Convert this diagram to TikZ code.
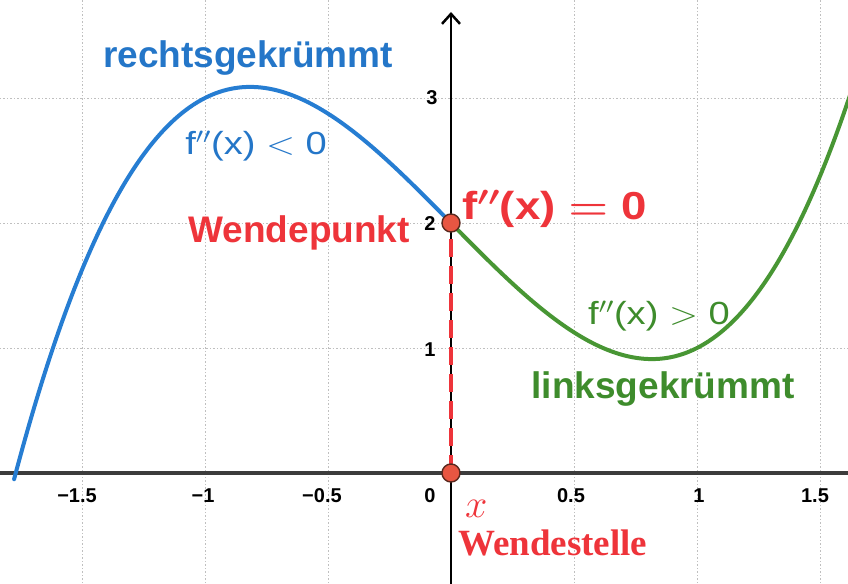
\RequirePackage{fix-cm}
\documentclass[tikz,border=0pt]{standalone}
\usepackage{graphicx}
\usepackage{fontspec}
\setmainfont{Liberation Sans}
\newfontfamily\serifbold{Liberation Serif}
\usetikzlibrary{arrows.meta}
\definecolor{cblue}{RGB}{38,125,210}
\definecolor{tblue}{RGB}{36,118,200}
\definecolor{cgreen}{RGB}{72,150,52}
\definecolor{tgreen}{RGB}{62,140,44}
\definecolor{cred}{RGB}{238,52,58}
\definecolor{pfill}{RGB}{232,86,66}
\definecolor{pline}{RGB}{90,40,30}
\definecolor{axgray}{RGB}{60,60,60}
\tikzset{
  gridline/.style={gray!50, line width=0.9pt, dash pattern=on 1.5pt off 2pt},
  ticklab/.style={font=\fontsize{20}{22}\selectfont\bfseries, text=black, inner sep=0pt},
  bigword/.style={font=\fontsize{37}{40}\selectfont\bfseries, inner sep=0pt, anchor=base west},
  formula/.style={font=\fontsize{32}{34}\selectfont, inner sep=0pt, anchor=base west},
  curve/.style={line width=4pt, line cap=round},
  wpoint/.style={circle, draw=pline, fill=pfill, line width=1.4pt, minimum size=18pt, inner sep=0pt}
}
\begin{document}
\begin{tikzpicture}[x=246pt,y=125pt]
\useasboundingbox (-1.8333,-0.88) rectangle (1.6138,3.784);
\clip (-1.8333,-0.88) rectangle (1.6138,3.784);
% grid
\foreach \gx in {-1.5,-1,-0.5,0.5,1,1.5}
  \draw[gridline] (\gx,-0.88) -- (\gx,3.784);
\foreach \gy in {1,2,3}
  \draw[gridline] (-1.8333,\gy) -- (1.6138,\gy);
% axes
\draw[axgray, line width=4pt] (-1.84,0) -- (1.62,0);
\draw[black, line width=2.5pt, -{Straight Barb[length=10pt,width=18pt,line width=2.5pt]}] (0,-0.9) -- (0,3.688);
% tick labels
\node[ticklab] (tm15) at (-1.5203,-0.184) {−1.5};
\node[ticklab] (tm1) at (-1.008,-0.184) {−1};
\node[ticklab] (tm05) at (-0.5244,-0.184) {−0.5};
\node[ticklab] (t0) at (-0.0854,-0.184) {0};
\node[ticklab] (t05) at (0.4878,-0.184) {0.5};
\node[ticklab] (t1) at (1.008,-0.184) {1};
\node[ticklab] (t15) at (1.4797,-0.184) {1.5};
\node[ticklab] (ty1) at (-0.0854,0.984) {1};
\node[ticklab] (ty2) at (-0.0854,1.992) {2};
\node[ticklab] (ty3) at (-0.0772,3.0) {3};
% curve
\draw[curve, cblue] plot[domain=-1.776:0, samples=120, smooth] (\x,{\x*\x*\x-2*\x+2});
\draw[curve, cgreen] plot[domain=0:1.66, samples=120, smooth] (\x,{\x*\x*\x-2*\x+2});
% points
\coordinate (S0) at (0,0);
\coordinate (P0) at (0,2);
\draw[cred, line width=4pt, dash pattern=on 18pt off 9pt] (S0) -- (P0);
\node[wpoint] (S) at (S0) {};
\node[wpoint] (P) at (P0) {};
% texts
\node[bigword, text=tblue] (rk) at (-1.4146,3.24) {rechtsgekrümmt};
\node[formula, text=tblue] (fk) at (-1.081,2.544) {\scalebox{1.19}[1]{f$''$(x) $<$ 0}};
\node[bigword, text=cred, anchor=base east] (wp) at (-0.1667,1.84) {Wendepunkt};
\node[formula, text=cred, font=\fontsize{39}{44}\selectfont\bfseries\boldmath] (fe) at (0.0447,2.024) {\scalebox{1.17}[1]{f$''$(x) $=$ 0}};
\node[formula, text=tgreen] (fg) at (0.557,1.184) {\scalebox{1.19}[1]{f$''$(x) $>$ 0}};
\node[bigword, text=tgreen, anchor=base east] (lk) at (1.398,0.6) {linksgekrümmt};
\node[anchor=base west, inner sep=0pt, text=cred, font=\fontsize{40}{44}\selectfont] (xl) at (0.057,-0.352) {$x$};
\node[anchor=base west, inner sep=0pt, text=cred, font=\fontsize{37}{40}\selectfont\serifbold\bfseries] (ws) at (0.0285,-0.656) {Wendestelle};
\end{tikzpicture}
\end{document}
